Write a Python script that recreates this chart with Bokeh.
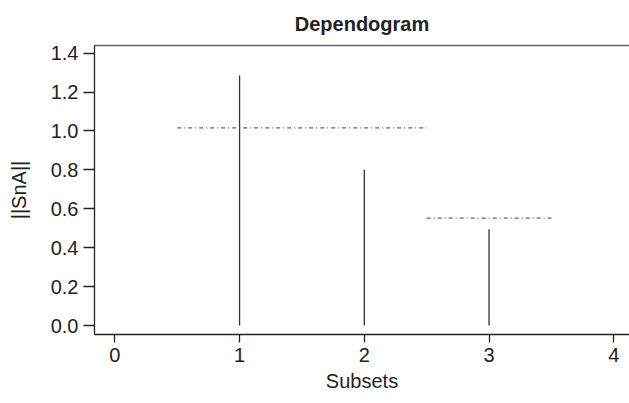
from bokeh.plotting import figure
from bokeh.models import Range1d, LinearAxis, FixedTicker, NumeralTickFormatter
from bokeh.embed import file_html
from bokeh.resources import INLINE

# Data
subsets = [1, 2, 3]
snA = [1.285, 0.80, 0.495]
thr_x0 = [0.5, 2.5]
thr_x1 = [2.5, 3.5]
thr_y = [1.016, 0.552]
x_ticks = [0, 1, 2, 3, 4]
y_ticks = [0.0, 0.2, 0.4, 0.6, 0.8, 1.0, 1.2, 1.4]

FONT = "Liberation Sans"

p = figure(width=629, height=403, output_backend="svg", toolbar_location=None,
           x_range=Range1d(-0.163, 4.126), y_range=Range1d(-0.046, 1.439),
           x_axis_location=None, y_axis_location=None,
           min_border_left=94, min_border_right=0, min_border_top=45, min_border_bottom=69,
           title="Dependogram")
p.grid.visible = False
p.outline_line_color = None
p.background_fill_color = "white"
p.border_fill_color = "white"

p.title.align = "center"
p.title.text_font = FONT
p.title.text_font_size = "20px"
p.title.text_font_style = "bold"
p.title.text_color = "#222222"
p.title.standoff = 21

xa = LinearAxis(ticker=FixedTicker(ticks=x_ticks), axis_label="Subsets")
ya = LinearAxis(ticker=FixedTicker(ticks=y_ticks), axis_label="||SnA||",
                formatter=NumeralTickFormatter(format="0.0"))
top = LinearAxis(ticker=FixedTicker(ticks=[]), major_label_text_font_size="0px",
                 major_tick_line_color=None, minor_tick_line_color=None,
                 major_tick_out=0, major_tick_in=0, major_label_standoff=0,
                 axis_line_color="#666666", axis_line_width=1.5)

for ax, tick_out in ((xa, 8), (ya, 11)):
    ax.axis_line_color = "#222222"
    ax.axis_line_width = 1.3
    ax.major_tick_line_color = "#222222"
    ax.major_tick_line_width = 1.3
    ax.major_tick_out = tick_out
    ax.major_tick_in = 0
    ax.minor_tick_line_color = None
    ax.major_label_text_font = FONT
    ax.major_label_text_font_size = "20px"
    ax.major_label_text_color = "#222222"
    ax.axis_label_text_font = FONT
    ax.axis_label_text_font_size = "20px"
    ax.axis_label_text_font_style = "normal"
    ax.axis_label_text_color = "#222222"
    ax.major_label_standoff = 5

xa.axis_label_standoff = 5
ya.axis_label_standoff = 18
ya.major_label_orientation = "horizontal"

p.add_layout(xa, "below")
p.add_layout(ya, "left")
p.add_layout(top, "above")

p.segment(x0=subsets, y0=[0] * len(subsets), x1=subsets, y1=snA,
          line_color="#333333", line_width=1.3)
p.segment(x0=thr_x0, y0=thr_y, x1=thr_x1, y1=thr_y,
          line_color="#666666", line_width=1.2, line_dash="4 3 1 3")

open("out.html", "w").write(file_html(p, INLINE))
